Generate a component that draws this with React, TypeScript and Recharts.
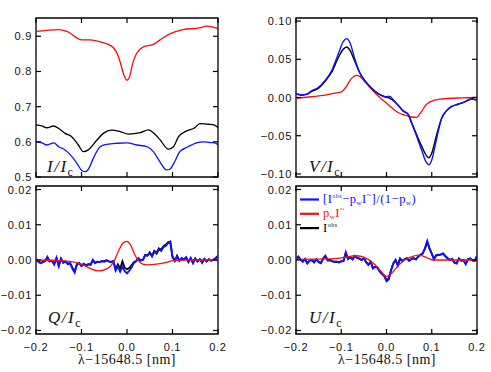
import React from 'react';
import { LineChart, Line, XAxis, YAxis, ReferenceArea } from 'recharts';

const W = 491;
const H = 372;

// ---------- axis ticks ----------
const xTicks = [-0.2, -0.1, 0, 0.1, 0.2];
const iTicks = [0.5, 0.6, 0.7, 0.8, 0.9];
const vTicks = [-0.1, -0.05, 0, 0.05, 0.1];
const qTicks = [-0.02, -0.01, 0, 0.01, 0.02];

// ---------- I / Ic ----------
const iRedX = [-0.2, -0.176, -0.15, -0.132, -0.099, -0.081, -0.059, -0.034, -0.023, -0.015, -0.008, 0, 0.005, 0.012, 0.021, 0.036, 0.058, 0.072, 0.094, 0.123, 0.16, 0.175, 0.189, 0.2];
const iRedY = [0.914, 0.917, 0.919, 0.914, 0.890, 0.890, 0.884, 0.872, 0.855, 0.827, 0.794, 0.775, 0.782, 0.820, 0.851, 0.870, 0.877, 0.889, 0.907, 0.919, 0.924, 0.929, 0.926, 0.922];
const iBlackX = [-0.2, -0.187, -0.176, -0.161, -0.15, -0.136, -0.121, -0.107, -0.096, -0.085, -0.066, -0.052, -0.034, -0.015, 0.003, 0.029, 0.047, 0.058, 0.072, 0.091, 0.102, 0.113, 0.131, 0.149, 0.16, 0.178, 0.189, 0.2];
const iBlackY = [0.648, 0.645, 0.640, 0.645, 0.638, 0.624, 0.614, 0.591, 0.572, 0.577, 0.605, 0.624, 0.633, 0.629, 0.622, 0.626, 0.634, 0.626, 0.607, 0.579, 0.586, 0.614, 0.631, 0.640, 0.652, 0.650, 0.649, 0.641];
const iBlueX = [-0.2, -0.187, -0.176, -0.161, -0.15, -0.136, -0.121, -0.11, -0.099, -0.092, -0.085, -0.074, -0.059, -0.044, -0.023, 0, 0.022, 0.044, 0.058, 0.072, 0.087, 0.094, 0.105, 0.116, 0.134, 0.153, 0.167, 0.182, 0.193, 0.2];
const iBlueY = [0.600, 0.597, 0.591, 0.597, 0.586, 0.577, 0.558, 0.539, 0.518, 0.515, 0.522, 0.553, 0.586, 0.593, 0.596, 0.597, 0.591, 0.586, 0.572, 0.544, 0.520, 0.522, 0.544, 0.572, 0.586, 0.597, 0.600, 0.598, 0.597, 0.591];

// ---------- V / Ic ----------
const vObsX = [-0.2, -0.1875, -0.1765, -0.1654, -0.1507, -0.136, -0.1213, -0.1066, -0.0956, -0.0882, -0.0809, -0.0699, -0.0588, -0.0478, -0.0331, -0.0184, -0.0037, 0.0074, 0.0147, 0.0257, 0.0368, 0.0478, 0.0551, 0.0662, 0.0772, 0.0882, 0.0934, 0.0993, 0.1103, 0.1213, 0.1324, 0.1434, 0.1581, 0.1728, 0.1875, 0.2];
const vBlueY = [0.005, 0.0035, 0.0044, 0.0088, 0.013, 0.022, 0.035, 0.057, 0.073, 0.077, 0.072, 0.050, 0.032, 0.022, 0.012, 0.005, 0.001, 0.0015, -0.003, -0.010, -0.0175, -0.022, -0.033, -0.050, -0.068, -0.085, -0.088, -0.083, -0.055, -0.028, -0.0175, -0.012, -0.0088, -0.0057, -0.002, -0.0035];
const vBlackY = [0.0044, 0.003, 0.004, 0.008, 0.012, 0.021, 0.033, 0.052, 0.063, 0.066, 0.062, 0.047, 0.032, 0.022, 0.012, 0.005, 0.001, -0.001, -0.004, -0.010, -0.0175, -0.022, -0.032, -0.048, -0.063, -0.076, -0.079, -0.074, -0.050, -0.028, -0.0175, -0.012, -0.0088, -0.0057, -0.002, -0.0035];
const vRedX = [-0.2, -0.1654, -0.136, -0.114, -0.0993, -0.0882, -0.0772, -0.0662, -0.0588, -0.0478, -0.0331, -0.0184, -0.0037, 0.011, 0.0257, 0.0404, 0.0551, 0.0662, 0.0772, 0.0882, 0.1066, 0.1287, 0.1654, 0.2];
const vRedY = [-0.001, 0.001, 0.003, 0.0057, 0.0074, 0.015, 0.025, 0.029, 0.0276, 0.0206, 0.011, 0.002, -0.0057, -0.013, -0.0197, -0.023, -0.0255, -0.026, -0.0185, -0.0090, -0.0035, -0.0015, -0.0005, 0];

// ---------- Q / Ic and U / Ic ----------
const gx = [
  -0.2, -0.195, -0.19, -0.185, -0.18, -0.175, -0.17, -0.165, -0.16, -0.155,
  -0.15, -0.145, -0.14, -0.135, -0.13, -0.125, -0.12, -0.115, -0.11, -0.105,
  -0.1, -0.095, -0.09, -0.085, -0.08, -0.075, -0.07, -0.065, -0.06, -0.055,
  -0.05, -0.045, -0.04, -0.035, -0.03, -0.025, -0.02, -0.015, -0.01, -0.005,
  0, 0.005, 0.01, 0.015, 0.02, 0.025, 0.03, 0.035, 0.04, 0.045,
  0.05, 0.055, 0.06, 0.065, 0.07, 0.075, 0.08, 0.085, 0.09, 0.095,
  0.1, 0.105, 0.11, 0.115, 0.12, 0.125, 0.13, 0.135, 0.14, 0.145,
  0.15, 0.155, 0.16, 0.165, 0.17, 0.175, 0.18, 0.185, 0.19, 0.195,
  0.2,
];
const qBlueY = [
  0.0003, -0.0005, -0.0009, -0.0006, -0.0003, 0.0009, -0.0004, -0.0002, -0.0013, 0.0006,
  -0.0018, 0.0004, -0.0008, -0.0004, -0.0012, -0.0009, -0.0025, -0.0036, -0.0012, -0.0009,
  -0.0018, -0.0011, -0.0016, -0.0012, -0.0014, 0.0000, -0.0009, -0.0005, -0.0006, -0.0003,
  -0.0005, -0.0001, -0.0004, -0.0006, -0.0003, -0.0030, -0.0018, -0.0033, -0.0019, -0.0032,
  -0.0038, -0.0030, -0.0021, -0.0008, -0.0004, 0.0005, -0.0002, 0.0000, 0.0014, 0.0012,
  0.0020, 0.0010, 0.0024, 0.0018, 0.0030, 0.0026, 0.0036, 0.0040, 0.0048, 0.0052,
  0.0008, -0.0003, 0.0012, -0.0002, 0.0005, 0.0001, 0.0008, -0.0006, 0.0006, -0.0009,
  0.0004, -0.0004, 0.0002, -0.0008, 0.0003, -0.0004, 0.0002, -0.0002, 0.0001, 0.0006,
  0.0012,
];
const qBlackY = [
  0.0002, -0.0004, -0.0008, -0.0006, -0.0002, 0.0007, -0.0004, -0.0002, -0.0011, 0.0005,
  -0.0016, 0.0003, -0.0007, -0.0004, -0.0011, -0.0009, -0.0022, -0.0032, -0.0012, -0.0009,
  -0.0016, -0.0011, -0.0015, -0.0012, -0.0013, -0.0001, -0.0008, -0.0005, -0.0006, -0.0003,
  -0.0004, -0.0001, -0.0004, -0.0005, -0.0003, -0.0026, -0.0012, -0.0024, -0.0004, -0.0022,
  -0.0026, -0.0022, -0.0015, -0.0006, -0.0003, 0.0005, -0.0001, 0.0001, 0.0014, 0.0013,
  0.0022, 0.0012, 0.0026, 0.0020, 0.0033, 0.0029, 0.0039, 0.0043, 0.0050, 0.0052,
  0.0010, -0.0002, 0.0011, -0.0002, 0.0005, 0.0001, 0.0007, -0.0005, 0.0005, -0.0008,
  0.0004, -0.0004, 0.0002, -0.0007, 0.0003, -0.0004, 0.0002, -0.0002, 0.0001, 0.0005,
  0.0011,
];
const qRedX = [-0.2, -0.1467, -0.1029, -0.081, -0.0628, -0.0445, -0.0299, -0.019, -0.0095, 0, 0.008, 0.0175, 0.0285, 0.0431, 0.065, 0.0869, 0.1015, 0.1307, 0.2];
const qRedY = [0, -0.0002, -0.001, -0.0024, -0.0031, -0.0025, -0.0007, 0.0024, 0.0047, 0.0053, 0.0042, 0.0014, -0.0007, -0.0014, -0.0012, -0.0007, -0.0002, 0, 0];

const uBlueY = [
  0.0003, 0.0010, 0.0002, -0.0005, 0.0003, -0.0010, -0.0002, 0.0000, -0.0007, 0.0002,
  -0.0006, -0.0009, 0.0004, 0.0012, -0.0001, 0.0000, -0.0004, -0.0005, -0.0005, -0.0007,
  -0.0004, -0.0003, 0.0022, 0.0003, 0.0008, 0.0002, 0.0012, 0.0006, 0.0004, 0.0000,
  0.0005, -0.0006, -0.0014, -0.0005, -0.0024, -0.0020, -0.0022, -0.0033, -0.0040, -0.0046,
  -0.0060, -0.0055, -0.0030, -0.0010, 0.0000, -0.0016, 0.0004, -0.0003, 0.0002, 0.0005,
  -0.0002, 0.0003, 0.0005, 0.0002, 0.0010, 0.0014, 0.0019, 0.0033, 0.0054, 0.0033,
  0.0018, 0.0002, 0.0014, 0.0015, 0.0016, 0.0019, 0.0011, 0.0005, 0.0000, 0.0003,
  -0.0008, -0.0010, 0.0004, -0.0002, 0.0000, -0.0012, 0.0002, 0.0004, -0.0001, -0.0002,
  0.0012,
];
const uBlackY = [
  0.0003, 0.0009, 0.0002, -0.0004, 0.0003, -0.0009, -0.0002, 0.0000, -0.0006, 0.0002,
  -0.0005, -0.0008, 0.0004, 0.0011, -0.0001, 0.0000, -0.0003, -0.0005, -0.0005, -0.0006,
  -0.0004, -0.0003, 0.0020, 0.0003, 0.0008, 0.0002, 0.0011, 0.0006, 0.0004, 0.0000,
  0.0005, -0.0006, -0.0013, -0.0005, -0.0022, -0.0019, -0.0021, -0.0031, -0.0038, -0.0044,
  -0.0057, -0.0052, -0.0029, -0.0010, 0.0000, -0.0015, 0.0004, -0.0003, 0.0002, 0.0005,
  -0.0002, 0.0003, 0.0005, 0.0002, 0.0010, 0.0014, 0.0019, 0.0032, 0.0051, 0.0032,
  0.0018, 0.0002, 0.0013, 0.0014, 0.0015, 0.0018, 0.0011, 0.0005, 0.0000, 0.0003,
  -0.0007, -0.0009, 0.0004, -0.0002, 0.0000, -0.0011, 0.0002, 0.0004, -0.0001, -0.0002,
  0.0011,
];
const uRedX = [-0.2, -0.129, -0.099, -0.067, -0.048, -0.029, -0.015, 0, 0.011, 0.026, 0.04, 0.055, 0.07, 0.081, 0.092, 0.103, 0.2];
const uRedY = [0.0002, 0.0003, 0.0006, 0.0012, 0.0007, -0.0009, -0.0028, -0.0047, -0.0038, -0.0016, 0, 0.0009, 0.0014, 0.0011, 0.0005, 0, 0];

const BLUE = '#1010ff';
const RED = '#f01010';
const BLACK = '#000000';

const zip = (xs: number[], ys: number[]) => xs.map((x, i) => ({ x, y: ys[i] }));
const MINUS = '\u2212';
const fmt = (v: number, d: number) => (v < -1e-12 ? MINUS : '') + Math.abs(v).toFixed(d);

const TICK_FONT = "'Liberation Sans', Arial, sans-serif";
const SERIF = "'Liberation Serif', 'Times New Roman', serif";

type Series = { data: { x: number; y: number }[]; color: string; width: number; smooth: boolean };

const AX_H = 20;
const AX_W = 30;

function Panel(props: {
  box: [number, number, number, number];
  yDomain: [number, number];
  yTicks: number[];
  yDec: number;
  showXLabels: boolean;
  series: Series[];
}) {
  const { box, yDomain, yTicks, yDec, showXLabels, series } = props;
  const [l, t, r, b] = box;
  const pw = r - l;
  const ph = b - t;
  const TL = 5;

  const xTick = (p: any) => {
    const { x, y, payload } = p;
    return (
      <g>
        <line x1={x} y1={y} x2={x} y2={y - TL} stroke="#000" strokeWidth={1.2} />
        <line x1={x} y1={y - ph} x2={x} y2={y - ph + TL} stroke="#000" strokeWidth={1.2} />
        {showXLabels && (
          <text x={x} y={y + 17} textAnchor="middle" fontFamily={TICK_FONT} fontSize={11} letterSpacing={0.7} fill="#111">
            {fmt(payload.value, 1)}
          </text>
        )}
      </g>
    );
  };
  const yTick = (p: any) => {
    const { x, y, payload } = p;
    return (
      <g>
        <line x1={x} y1={y} x2={x + TL} y2={y} stroke="#000" strokeWidth={1.2} />
        <line x1={x + pw} y1={y} x2={x + pw - TL} y2={y} stroke="#000" strokeWidth={1.2} />
        <text x={x - 4} y={y + 4} textAnchor="end" fontFamily={TICK_FONT} fontSize={11} letterSpacing={0.7} fill="#111">
          {fmt(payload.value, yDec)}
        </text>
      </g>
    );
  };

  return (
    <div style={{ position: 'absolute', left: 0, top: 0 }}>
      <LineChart width={W} height={H} margin={{ top: t, left: l - AX_W, right: W - r, bottom: H - b - AX_H }}>
        <XAxis
          dataKey="x"
          type="number"
          domain={[-0.2, 0.2]}
          ticks={xTicks}
          interval={0}
          height={AX_H}
          tickSize={0}
          tickMargin={0}
          axisLine={false}
          tickLine={false}
          allowDataOverflow
          tick={xTick}
        />
        <YAxis
          type="number"
          domain={yDomain}
          ticks={yTicks}
          interval={0}
          width={AX_W}
          tickSize={0}
          tickMargin={0}
          axisLine={false}
          tickLine={false}
          allowDataOverflow
          tick={yTick}
        />
        <ReferenceArea x1={-0.2} x2={0.2} y1={yDomain[0]} y2={yDomain[1]} fill="none" fillOpacity={0} stroke="#000" strokeWidth={1.3} />
        {series.map((s, i) => (
          <Line
            key={i}
            data={s.data}
            dataKey="y"
            type={s.smooth ? 'monotone' : 'linear'}
            stroke={s.color}
            strokeWidth={s.width}
            dot={false}
            activeDot={false}
            isAnimationActive={false}
          />
        ))}
      </LineChart>
    </div>
  );
}

const legendItems = [
  { color: BLUE, key: 'corr' },
  { color: RED, key: 'stray' },
  { color: BLACK, key: 'obs' },
];

function LegendText({ k, x, y, color }: { k: string; x: number; y: number; color: string }) {
  const sup = y - 5;
  const sub = y + 2;
  const common = { fontFamily: SERIF, fill: color, letterSpacing: 0.5 } as any;
  if (k === 'corr') {
    return (
      <text x={x} y={y} fontSize={12.5} {...common}>
        <tspan>[I</tspan>
        <tspan fontSize={6} y={sup}>obs</tspan>
        <tspan y={y}>{MINUS}p</tspan>
        <tspan fontSize={7} y={sub}>w</tspan>
        <tspan y={y}>I</tspan>
        <tspan fontSize={8} y={sup}>~</tspan>
        <tspan y={y}>]/(1{MINUS}p</tspan>
        <tspan fontSize={7} y={sub}>w</tspan>
        <tspan y={y}>)</tspan>
      </text>
    );
  }
  if (k === 'stray') {
    return (
      <text x={x} y={y} fontSize={12.5} {...common}>
        <tspan>p</tspan>
        <tspan fontSize={7} y={sub}>w</tspan>
        <tspan y={y}>I</tspan>
        <tspan fontSize={8} y={sup}>~</tspan>
      </text>
    );
  }
  return (
    <text x={x} y={y} fontSize={12.5} {...common}>
      <tspan>I</tspan>
      <tspan fontSize={6} y={sup}>obs</tspan>
    </text>
  );
}

function PanelLabel({ x, y, sym }: { x: number; y: number; sym: string }) {
  return (
    <text x={x} y={y} fontFamily={SERIF} fontSize={17} fill="#111" letterSpacing={1.5}>
      <tspan fontStyle="italic">{sym}/I</tspan>
      <tspan fontSize={12} y={y + 4}>c</tspan>
    </text>
  );
}

export default function App() {
  const TLbox: [number, number, number, number] = [36, 18, 218, 177];
  const TRbox: [number, number, number, number] = [296, 18, 477, 177];
  const BLbox: [number, number, number, number] = [36, 186, 218, 334];
  const BRbox: [number, number, number, number] = [296, 186, 477, 334];

  return (
    <div style={{ position: 'absolute', left: 0, top: 0, width: W, height: H, background: '#fff' }}>
      <Panel
        box={TLbox}
        yDomain={[0.5, 0.952]}
        yTicks={iTicks}
        yDec={1}
        showXLabels={false}
        series={[
          { data: zip(iRedX, iRedY), color: RED, width: 1.3, smooth: true },
          { data: zip(iBlackX, iBlackY), color: BLACK, width: 1.3, smooth: true },
          { data: zip(iBlueX, iBlueY), color: BLUE, width: 1.3, smooth: true },
        ]}
      />
      <Panel
        box={TRbox}
        yDomain={[-0.104, 0.104]}
        yTicks={vTicks}
        yDec={2}
        showXLabels={false}
        series={[
          { data: zip(vRedX, vRedY), color: RED, width: 1.3, smooth: true },
          { data: zip(vObsX, vBlackY), color: BLACK, width: 1.4, smooth: true },
          { data: zip(vObsX, vBlueY), color: BLUE, width: 1.4, smooth: true },
        ]}
      />
      <Panel
        box={BLbox}
        yDomain={[-0.021, 0.021]}
        yTicks={qTicks}
        yDec={2}
        showXLabels={true}
        series={[
          { data: zip(gx, qBlackY), color: BLACK, width: 1.8, smooth: false },
          { data: zip(gx, qBlueY), color: BLUE, width: 1.9, smooth: false },
          { data: zip(qRedX, qRedY), color: RED, width: 1.3, smooth: true },
        ]}
      />
      <Panel
        box={BRbox}
        yDomain={[-0.021, 0.021]}
        yTicks={qTicks}
        yDec={2}
        showXLabels={true}
        series={[
          { data: zip(gx, uBlackY), color: BLACK, width: 1.8, smooth: false },
          { data: zip(gx, uBlueY), color: BLUE, width: 1.9, smooth: false },
          { data: zip(uRedX, uRedY), color: RED, width: 1.3, smooth: true },
        ]}
      />
      <svg width={W} height={H} style={{ position: 'absolute', left: 0, top: 0, pointerEvents: 'none' }}>
        <PanelLabel x={47} y={172} sym="I" />
        <PanelLabel x={309} y={172} sym="V" />
        <PanelLabel x={48} y={323} sym="Q" />
        <PanelLabel x={309} y={323} sym="U" />
        <text x={127} y={364} textAnchor="middle" fontFamily={SERIF} fontSize={14} letterSpacing={0.5} fill="#111">
          λ{MINUS}15648.5 [nm]
        </text>
        <text x={387} y={364} textAnchor="middle" fontFamily={SERIF} fontSize={14} letterSpacing={0.5} fill="#111">
          λ{MINUS}15648.5 [nm]
        </text>
        {legendItems.map((it, i) => (
          <g key={it.key}>
            <line x1={300} x2={319} y1={199.5 + i * 14.3} y2={199.5 + i * 14.3} stroke={it.color} strokeWidth={2.2} />
            <LegendText k={it.key} x={323} y={203 + i * 14.3} color={it.color} />
          </g>
        ))}
      </svg>
    </div>
  );
}
